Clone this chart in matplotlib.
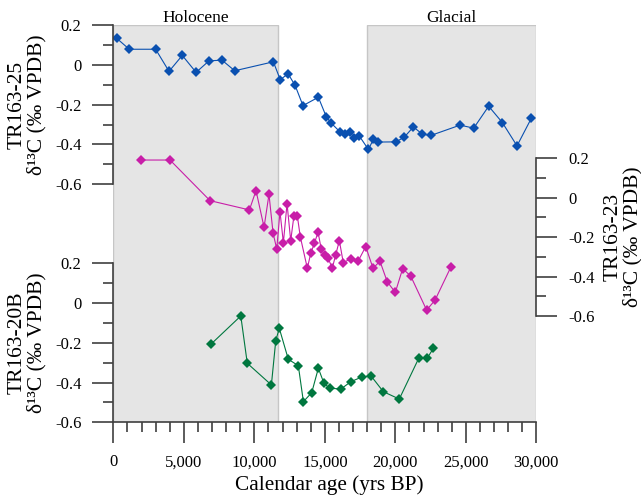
import matplotlib
matplotlib.use("Agg")
import matplotlib.pyplot as plt
import matplotlib.transforms as mtransforms

plt.rcParams['font.family'] = ['Liberation Serif', 'DejaVu Serif']

# calendar age (yrs BP) and d13C (permil VPDB) for each core
ages_25 = [240, 1130, 3000, 3950, 4890, 5870, 6790, 7710, 8610, 11350, 11840,
           12390, 12890, 13450, 14540, 15110, 15440, 16080, 16450, 16790, 17090,
           17450, 18090, 18440, 18750, 20050, 20640, 21280, 21910, 22510, 24590,
           25560, 26620, 27590, 28630, 29650]
d13c_25 = [0.133, 0.078, 0.078, -0.033, 0.047, -0.038, 0.020, 0.023, -0.030,
           0.015, -0.075, -0.045, -0.103, -0.205, -0.163, -0.262, -0.292, -0.337,
           -0.350, -0.338, -0.367, -0.358, -0.425, -0.375, -0.388, -0.387, -0.363,
           -0.312, -0.348, -0.355, -0.303, -0.318, -0.208, -0.290, -0.407, -0.268]

ages_23 = [1940, 4020, 6860, 9650, 10120, 10690, 11040, 11330, 11590, 11820,
           12060, 12320, 12580, 12810, 13050, 13260, 13760, 14000, 14260, 14520,
           14750, 14990, 15230, 15530, 15770, 16030, 16310, 16840, 17380, 17900,
           18420, 18910, 19430, 20000, 20520, 21090, 22220, 22820, 23930]
d13c_23 = [0.191, 0.191, -0.015, -0.062, 0.036, -0.150, 0.017, -0.180, -0.260,
           -0.071, -0.228, -0.030, -0.218, -0.091, -0.093, -0.198, -0.358, -0.282,
           -0.231, -0.175, -0.262, -0.290, -0.307, -0.357, -0.290, -0.218, -0.330,
           -0.309, -0.319, -0.248, -0.358, -0.322, -0.427, -0.480, -0.360, -0.397,
           -0.570, -0.519, -0.353]

ages_20b = [6910, 9040, 9500, 11210, 11520, 11770, 12410, 13120, 13480, 14070,
            14540, 14940, 15350, 16150, 16840, 17620, 18280, 19150, 20280, 21680,
            22250, 22700]
d13c_20b = [-0.208, -0.065, -0.303, -0.412, -0.189, -0.127, -0.283, -0.315,
            -0.496, -0.451, -0.328, -0.404, -0.429, -0.432, -0.396, -0.372, -0.367,
            -0.446, -0.483, -0.275, -0.278, -0.228]

# climate intervals (shaded)
periods = ['Holocene', 'Glacial']
period_start = [0, 18000]
period_end = [11700, 30000]

xticks = [0, 5000, 10000, 15000, 20000, 25000, 30000]
xticklabels = ['0', '5,000', '10,000', '15,000', '20,000', '25,000', '30,000']
yticks = [-0.6, -0.4, -0.2, 0.0, 0.2]
yticklabels = ['-0.6', '-0.4', '-0.2', '0', '0.2']
yminor = [-0.5, -0.3, -0.1, 0.1]

BLUE = '#0a50b0'
PINK = '#c81ea8'
GREEN = '#00773f'
AXC = '#404040'

fig = plt.figure(figsize=(6.41, 4.99), dpi=100)
ax = fig.add_axes([0.1768, 0.1537, 0.6599, 0.7963])   # TR163-20B, bottom left
ax2 = ax.twinx()                                     # TR163-25, top left
ax3 = ax.twinx()                                     # TR163-23, middle right

for start, end in zip(period_start, period_end):
    ax.axvspan(start, end, facecolor='#e5e5e5', edgecolor='#c6c6c6', lw=1, zorder=0)
blend = mtransforms.blended_transform_factory(ax.transData, ax.transAxes)
for name, start, end in zip(periods, period_start, period_end):
    ax.text((start + end) / 2, 1.007, name, transform=blend, ha='center',
            va='baseline', fontsize=12.5)

ax.set_xlim(0, 30000)
ax.set_ylim(-0.6, 1.399)
ax2.set_ylim(-1.795, 0.2)
ax3.set_ylim(-1.139, 0.876)
for a in (ax2, ax3):
    a.set_xlim(0, 30000)

style = dict(marker='D', markersize=4.6, markeredgewidth=0, lw=0.8)
ax.plot(ages_20b, d13c_20b, color=GREEN, **style)
ax2.plot(ages_25, d13c_25, color=BLUE, **style)
ax3.plot(ages_23, d13c_23, color=PINK, **style)

# x axis
ax.set_xticks(xticks)
ax.set_xticklabels(xticklabels)
ax.set_xticks(range(0, 30001, 1000), minor=True)
ax.spines['bottom'].set_bounds(0, 30000)

# y axes: each spine only covers its own -0.6..0.2 range
for a, side in ((ax, 'left'), (ax2, 'left'), (ax3, 'right')):
    for s in a.spines.values():
        s.set_visible(False)
    a.spines[side].set_visible(True)
    a.spines[side].set_bounds(-0.6, 0.2)
    if side == 'left':
        a.yaxis.tick_left()
    else:
        a.yaxis.tick_right()
    a.set_yticks(yticks)
    a.set_yticklabels(yticklabels)
    a.set_yticks(yminor, minor=True)
ax.spines['bottom'].set_visible(True)

for a in (ax, ax2, ax3):
    for s in a.spines.values():
        s.set_color(AXC)
        s.set_linewidth(1.2)
    a.tick_params(which='major', direction='out', length=15, width=1.2,
                  color=AXC, pad=8, labelsize=12)
    a.tick_params(which='minor', direction='out', length=7, width=1.2, color=AXC)
    a.tick_params(axis='x', which='minor', length=7.5)

# axis titles
lab = dict(rotation=90, ha='center', va='center', multialignment='center',
           fontsize=15.5, linespacing=1.0)
fig.text(27 / 641, 1 - 105 / 499, 'TR163-25\nδ¹³C (‰ VPDB)', **lab)
fig.text(27 / 641, 1 - 343 / 499, 'TR163-20B\nδ¹³C (‰ VPDB)', **lab)
fig.text(623 / 641, 1 - 237 / 499, 'TR163-23\nδ¹³C (‰ VPDB)', **lab)
fig.text(0.513, 1 - 490 / 499, 'Calendar age (yrs BP)', ha='center',
         va='baseline', fontsize=15.3)

fig.savefig('out.png', dpi=100)
